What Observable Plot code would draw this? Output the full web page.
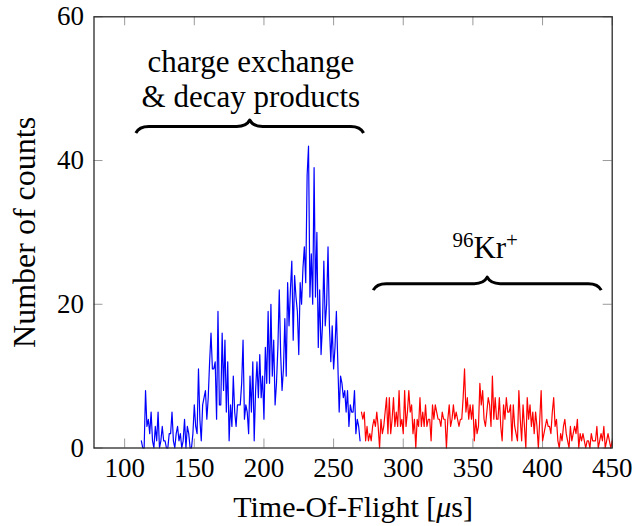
<!DOCTYPE html>
<html>
<head>
<meta charset="utf-8">
<script src="https://cdn.jsdelivr.net/npm/d3@7"></script>
<script src="https://cdn.jsdelivr.net/npm/@observablehq/plot@0.6"></script>
<style>
  html, body { margin: 0; padding: 0; background: #fff; }
  #chart { width: 635px; height: 526px; }
</style>
</head>
<body>
<div id="chart"></div>
<script>
// ---- data (1 µs bins) ----
const blueStart = 112;
const blueCounts = [
  1,0,0,8,3,4,2,5,1,0,
  3,1,5,0,1,3,1,1,0,0,
  2,2,5,1,0,2,3,1,2,0,
  1,4,0,3,2,0,0,2,6,3,
  2,11,4,1,6,7,8,4,7,12,
  16,11,11,12,4,19,6,6,16,8,
  15,5,12,1,6,3,10,5,3,6,
  6,6,9,15,4,6,5,2,10,5,
  12,1,8,12,7,13,7,10,4,14,
  9,19,9,20,10,15,6,9,14,22,
  13,8,11,18,10,23,17,22,26,15,
  24,21,19,13,23,20,25,28,23,38,
  42,21,27,20,39,21,30,14,22,13,
  17,26,17,20,28,17,12,17,11,14,
  19,12,5,10,9,7,8,5,8,3,
  6,5,5,8,2,4,3,1
];
const redStart = 270;
const redCounts = [
  5,4,5,1,3,1,2,1,3,4,
  3,5,3,0,4,2,3,5,7,2,
  7,2,4,7,3,5,3,8,3,4,
  2,8,3,5,8,5,6,2,4,0,
  4,3,7,3,5,3,6,3,4,4,
  1,6,4,6,5,4,4,3,5,4,
  4,0,4,6,3,4,6,4,5,4,
  3,4,4,7,11,5,7,4,6,4,
  6,1,4,2,3,9,6,8,4,3,
  5,7,6,3,10,4,7,4,4,7,
  3,1,6,4,7,5,5,6,1,6,
  3,2,1,8,4,1,6,3,0,7,
  4,6,3,5,2,5,3,0,4,8,
  1,2,3,4,3,3,2,5,7,3,
  4,1,0,2,1,3,4,2,1,0,
  3,1,2,3,2,4,0,2,1,2,
  1,0,1,1,0,2,1,1,1,3,
  0,1,2,1,3,0,1,2,1,0,
  1
];
const xTicks = [100, 150, 200, 250, 300, 350, 400, 450];
const yTicks = [0, 20, 40, 60];
const xDomain = [78, 450];
const yDomain = [0, 60];
const xLabel = "Time-Of-Flight [μs]";
const yLabel = "Number of counts";

// annotations
const annotationLines = ["charge exchange", "& decay products"];
const annotationX = [190.6, 190.6];
const annotationY = [52.25, 47.45];
const krText = "Kr";
const krX = 358.8;
const krY = 26.5;
const braceX1 = [108.4, 278.8];
const braceX2 = [271.9, 442.5];
const braceY = [44.66, 22.8];

// ---- layout ----
const W = 635, H = 526;
const mL = 93.5, mR = 23.3, mT = 16.3, mB = 78.5;
const FONT = "'Liberation Serif', 'Times New Roman', serif";
const tickPx = 9;
const tickLenY = tickPx * (yDomain[1] - yDomain[0]) / (H - mT - mB);
const tickLenX = tickPx * (xDomain[1] - xDomain[0]) / (W - mL - mR);

const blueData = blueCounts.map((n, i) => ({t: blueStart + i, n}));
const redData = redCounts.map((n, i) => ({t: redStart + i, n}));
const annData = annotationLines.map((s, i) => ({s, x: annotationX[i], y: annotationY[i]}));

function braceMark(index, scales) {
  let sx = scales && scales.x, sy = scales && scales.y;
  if (typeof sx !== "function") sx = d3.scaleLinear(xDomain, [mL, W - mR]);
  if (typeof sy !== "function") sy = d3.scaleLinear(yDomain, [H - mB, mT]);
  const g = d3.create("svg:g");
  const A = 13;
  for (let i = 0; i < braceX1.length; i++) {
    const xL = sx(braceX1[i]), xR = sx(braceX2[i]);
    const y0 = sy(braceY[i]) + A / 2;
    const xm = (xL + xR) / 2;
    const yb = y0 - 0.5 * A;
    const p = `M${xL},${y0} C${xL + 0.15 * A},${y0 - 0.3 * A} ${xL + 0.5 * A},${yb} ${xL + A},${yb} ` +
      `L${xm - A},${yb} C${xm - 0.5 * A},${yb} ${xm - 0.15 * A},${y0 - 0.7 * A} ${xm},${y0 - A} ` +
      `C${xm + 0.15 * A},${y0 - 0.7 * A} ${xm + 0.5 * A},${yb} ${xm + A},${yb} ` +
      `L${xR - A},${yb} C${xR - 0.5 * A},${yb} ${xR - 0.15 * A},${y0 - 0.3 * A} ${xR},${y0}`;
    g.append("path").attr("d", p).attr("fill", "none").attr("stroke", "#000")
      .attr("stroke-width", 3).attr("stroke-linejoin", "round");
  }
  return g.node();
}

const chart = Plot.plot({
  width: W, height: H,
  marginLeft: mL, marginRight: mR, marginTop: mT, marginBottom: mB,
  style: {fontFamily: FONT, fontSize: "27px", background: "#fff", color: "#000"},
  x: {domain: xDomain, label: null},
  y: {domain: yDomain, label: null},
  marks: [
    // inward tick marks on all four sides
    Plot.ruleX(xTicks, {x: d => d, y1: yDomain[0], y2: yDomain[0] + tickLenY, stroke: "#9a9a9a", strokeWidth: 1}),
    Plot.ruleX(xTicks, {x: d => d, y1: yDomain[1] - tickLenY, y2: yDomain[1], stroke: "#9a9a9a", strokeWidth: 1}),
    Plot.ruleY(yTicks, {y: d => d, x1: xDomain[0], x2: xDomain[0] + tickLenX, stroke: "#9a9a9a", strokeWidth: 1}),
    Plot.ruleY(yTicks, {y: d => d, x1: xDomain[1] - tickLenX, x2: xDomain[1], stroke: "#9a9a9a", strokeWidth: 1}),
    Plot.axisX({ticks: xTicks, tickSize: 0, tickPadding: 10, fontSize: 27, label: null, tickFormat: d => String(d)}),
    Plot.axisY({ticks: yTicks, tickSize: 0, tickPadding: 10, fontSize: 27, label: null, tickFormat: d => String(d)}),
    Plot.line(blueData, {x: "t", y: "n", stroke: "#0000ff", strokeWidth: 1.2}),
    Plot.line(redData, {x: "t", y: "n", stroke: "#ff0000", strokeWidth: 1.2}),
    Plot.text(annData, {x: "x", y: "y", text: "s", fontSize: 31, lineAnchor: "bottom", fill: "#000"}),
    Plot.text([krText], {x: () => krX, y: () => krY, text: d => d, fontSize: 31, lineAnchor: "bottom", fill: "#000"}),
    braceMark,
    Plot.text([yLabel], {frameAnchor: "left", text: d => d, rotate: -90, dx: -69, textAnchor: "middle", fontSize: 32, fill: "#000"}),
    Plot.text([xLabel], {frameAnchor: "bottom", text: d => d, dy: 69, lineAnchor: "bottom", textAnchor: "middle", fontSize: 30, fill: "#000"}),
    Plot.frame({stroke: "#2a2a2a", strokeWidth: 1.3})
  ]
});

document.getElementById("chart").appendChild(chart);

// rich text: italic µ and superscripts
const svg = d3.select(chart);
svg.selectAll("text").filter(function () { return this.textContent === xLabel; }).each(function () {
  const t = d3.select(this);
  t.text(null);
  t.append("tspan").text("Time-Of-Flight [");
  t.append("tspan").attr("font-style", "italic").text("μ");
  t.append("tspan").text("s]");
});
svg.selectAll("text").filter(function () { return this.textContent === krText; }).each(function () {
  const t = d3.select(this);
  t.text(null);
  t.append("tspan").attr("font-size", 21).attr("dy", -11).text("96");
  t.append("tspan").attr("font-size", 31).attr("dy", 11).text("Kr");
  t.append("tspan").attr("font-size", 21).attr("dy", -11).text("+");
});
</script>
</body>
</html>
